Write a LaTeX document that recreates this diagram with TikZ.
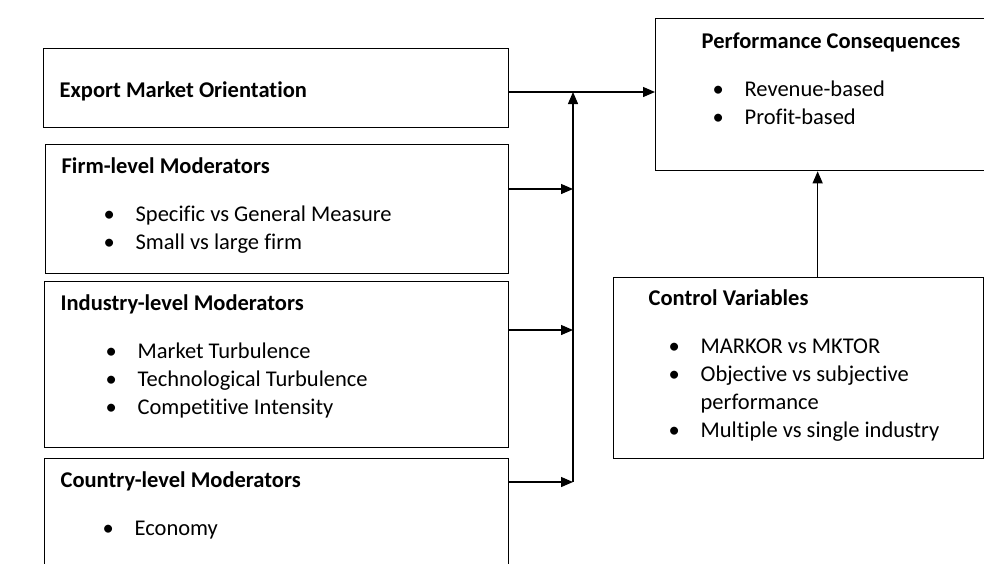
\documentclass[tikz,border=0pt]{standalone}
\usepackage{fontspec}
\setmainfont[Ligatures=NoCommon]{Carlito}
\usetikzlibrary{positioning, calc, arrows.meta}

% bullet line: indent, then bullet, then text
\newcommand{\bitem}[2]{\hspace*{#1}\makebox[32pt][l]{\textbullet}#2}

\begin{document}
\begin{tikzpicture}[
    x=1pt, y=-1pt,
    >={Triangle[length=12pt,width=10pt]},
    line width=1.3pt,
    font=\fontsize{22.5}{28}\selectfont,
    box/.style={
        draw,
        anchor=north west,
        inner sep=0pt
    },
    txt/.style={
        anchor=base west,
        inner sep=0pt,
        align=left
    }
]

\clip (0,0) rectangle (984,563);

% boxes
\node[box, minimum width=465pt, minimum height=79pt] (emo) at (43,48) {};
\node[box, minimum width=463pt, minimum height=129pt] (firm) at (45,144) {};
\node[box, minimum width=464pt, minimum height=166pt] (industry) at (44,281) {};
\node[box, minimum width=464pt, minimum height=117pt] (country) at (44,458) {};
\node[box, minimum width=340pt, minimum height=152pt] (perf) at (655,18) {};
\node[box, minimum width=370pt, minimum height=181pt] (control) at (613,277) {};

% texts
\node[txt] (emotxt) at (59,97) {\textbf{Export Market Orientation}};
\node[txt] (firmtxt) at (61,173) {\begin{tabular}[t]{@{}l@{}}
    \textbf{Firm-level Moderators}\\[20pt]
    \bitem{42pt}{Specific vs General Measure}\\
    \bitem{42pt}{Small vs large firm}
\end{tabular}};
\node[txt] (industrytxt) at (60,310) {\begin{tabular}[t]{@{}l@{}}
    \textbf{Industry-level Moderators}\\[20pt]
    \bitem{45pt}{Market Turbulence}\\
    \bitem{45pt}{Technological Turbulence}\\
    \bitem{45pt}{Competitive Intensity}
\end{tabular}};
\node[txt] (countrytxt) at (60,487) {\begin{tabular}[t]{@{}l@{}}
    \textbf{Country-level Moderators}\\[20pt]
    \bitem{42pt}{Economy}
\end{tabular}};
\node[txt] (perftxt) at (701,48) {\begin{tabular}[t]{@{}l@{}}
    \textbf{Performance Consequences}\\[20pt]
    \bitem{11pt}{Revenue-based}\\
    \bitem{11pt}{Profit-based}
\end{tabular}};
\node[txt] (controltxt) at (648,305) {\begin{tabular}[t]{@{}l@{}}
    \textbf{Control Variables}\\[20pt]
    \bitem{20pt}{MARKOR vs MKTOR}\\
    \bitem{20pt}{Objective vs subjective}\\
    \hspace*{20pt}\makebox[32pt]{}performance\\
    \bitem{20pt}{Multiple vs single industry}
\end{tabular}};

% connectors
\coordinate (trunk) at (573,92);
\draw[->] ([yshift=-44pt]emo.north east) coordinate (e) -- (e -| perf.west);
\draw[->] ([yshift=-45pt]firm.north east) coordinate (f) -- (f -| trunk);
\draw[->] ([yshift=-49pt]industry.north east) coordinate (i) -- (i -| trunk);
\draw[->] ([yshift=-24pt]country.north east) coordinate (c) -- (c -| trunk);
\draw[->] (c -| trunk) -- (trunk);
\draw[->] ([xshift=19pt]control.north) coordinate (v) -- (v |- perf.south);

\end{tikzpicture}
\end{document}
